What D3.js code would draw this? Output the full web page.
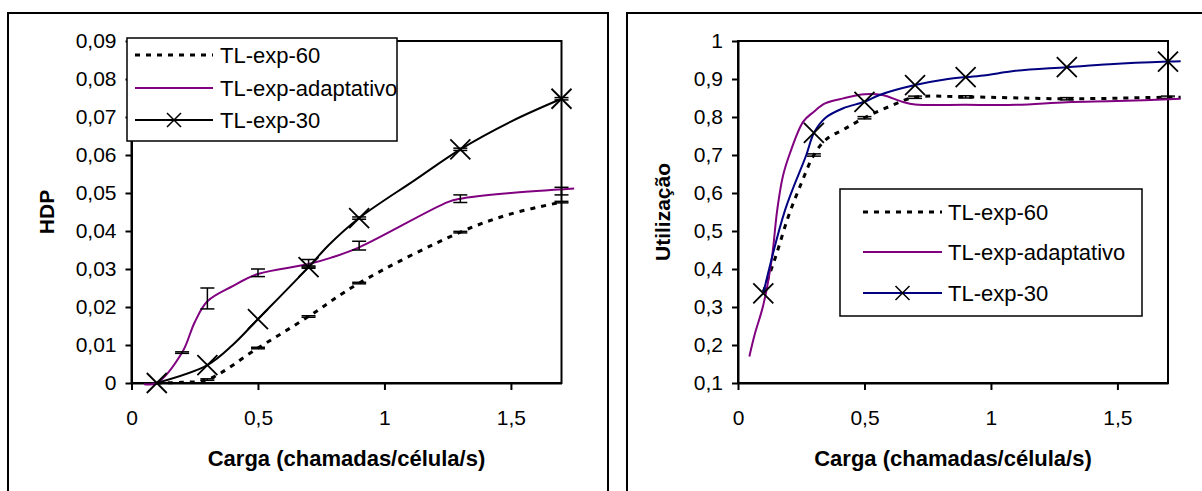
<!DOCTYPE html>
<html>
<head>
<meta charset="utf-8">
<script src="https://cdn.jsdelivr.net/npm/d3@7"></script>
<style>
  body { margin: 0; background: #fff; }
  svg { display: block; font-family: "Liberation Sans", Arial, sans-serif; }
</style>
</head>
<body>
<div id="vis"></div>
<script>
// axis ticks and labels
const xTicks = [0, 0.5, 1, 1.5];
const xTickLabels = ["0", "0,5", "1", "1,5"];
const hdpTicks = [0, 0.01, 0.02, 0.03, 0.04, 0.05, 0.06, 0.07, 0.08, 0.09];
const hdpTickLabels = ["0", "0,01", "0,02", "0,03", "0,04", "0,05", "0,06", "0,07", "0,08", "0,09"];
const utilTicks = [0.1, 0.2, 0.3, 0.4, 0.5, 0.6, 0.7, 0.8, 0.9, 1];
const utilTickLabels = ["0,1", "0,2", "0,3", "0,4", "0,5", "0,6", "0,7", "0,8", "0,9", "1"];
const seriesNames = ["TL-exp-60", "TL-exp-adaptativo", "TL-exp-30"];
const xTitle = "Carga (chamadas/célula/s)";

// HDP (left chart): [carga, valor]
const hdpExp60 = [[0.1, 0], [0.2, 0.0002], [0.3, 0.0009], [0.5, 0.0092], [0.7, 0.0175],
  [0.9, 0.0263], [1.3, 0.0397], [1.5, 0.0445], [1.7, 0.0476]];
const hdpAdapt = [[0.05, -0.0003], [0.1, 0], [0.2, 0.008], [0.25, 0.016], [0.3, 0.0215],
  [0.4, 0.0255], [0.5, 0.0287], [0.7, 0.0313], [0.79, 0.033], [0.9, 0.0357], [1.25, 0.0476],
  [1.3, 0.0485], [1.5, 0.05], [1.75, 0.0512]];
const hdpExp30 = [[0.1, 0], [0.3, 0.0047], [0.4, 0.01], [0.5, 0.0168], [0.7, 0.0305],
  [0.78, 0.0363], [0.9, 0.0434], [1.12, 0.0534], [1.3, 0.0615], [1.5, 0.0688], [1.7, 0.0748]];
const hdpExp30Marks = [0.1, 0.3, 0.5, 0.7, 0.9, 1.3, 1.7];
// error bars: [carga, baixo, alto]
const hdpExp60Err = [[0.3, 0.0007, 0.0011], [0.5, 0.009, 0.0094], [0.7, 0.0173, 0.0177],
  [0.9, 0.0261, 0.0265], [1.3, 0.0395, 0.0399], [1.7, 0.0474, 0.0478]];
const hdpAdaptErr = [[0.2, 0.0078, 0.0082], [0.3, 0.0195, 0.025], [0.5, 0.028, 0.030],
  [0.7, 0.0305, 0.0325], [0.9, 0.035, 0.0373], [1.3, 0.0475, 0.0495], [1.7, 0.0495, 0.0515]];
const hdpExp30Err = [[0.7, 0.0302, 0.0308], [0.9, 0.0431, 0.0437], [1.3, 0.0612, 0.0618],
  [1.7, 0.0745, 0.0751]];

// Utilização (right chart)
const utilExp60 = [[0.1, 0.34], [0.15, 0.435], [0.2, 0.54], [0.25, 0.625], [0.3, 0.70],
  [0.35, 0.742], [0.42, 0.768], [0.5, 0.798], [0.6, 0.828], [0.7, 0.852], [0.9, 0.853],
  [1.3, 0.848], [1.7, 0.852], [1.75, 0.852]];
const utilAdapt = [[0.045, 0.17], [0.067, 0.23], [0.1, 0.305], [0.133, 0.424], [0.155, 0.555],
  [0.177, 0.643], [0.205, 0.704], [0.258, 0.788], [0.3, 0.814], [0.344, 0.836], [0.416, 0.849],
  [0.5, 0.86], [0.57, 0.858], [0.65, 0.84], [0.7, 0.833], [0.9, 0.832], [1.1, 0.832],
  [1.3, 0.839], [1.5, 0.842], [1.75, 0.848]];
const utilExp30 = [[0.1, 0.336], [0.186, 0.555], [0.27, 0.70], [0.3, 0.758], [0.344, 0.797],
  [0.416, 0.823], [0.5, 0.84], [0.56, 0.858], [0.7, 0.884], [0.83, 0.90], [0.9, 0.905],
  [0.98, 0.91], [1.09, 0.921], [1.3, 0.931], [1.47, 0.939], [1.7, 0.946], [1.75, 0.947]];
const utilExp30Marks = [0.1, 0.3, 0.5, 0.7, 0.9, 1.3, 1.7];
const utilExp60Err = [[0.3, 0.697, 0.703], [0.5, 0.795, 0.801], [0.7, 0.849, 0.855],
  [0.9, 0.85, 0.856], [1.3, 0.845, 0.851], [1.7, 0.849, 0.855]];

const svg = d3.select("#vis").append("svg")
  .attr("width", 1202)
  .attr("height", 491);

// outer frames
svg.append("rect").attr("x", 8).attr("y", 13).attr("width", 600).attr("height", 520)
  .attr("fill", "none").attr("stroke", "#000").attr("stroke-width", 2);
svg.append("rect").attr("x", 627).attr("y", 13).attr("width", 600).attr("height", 520)
  .attr("fill", "none").attr("stroke", "#000").attr("stroke-width", 2);

const styles = {
  exp60: { stroke: "#000", width: 3, dash: "5,6" },
  adapt: { stroke: "#800080", width: 2, dash: null },
  exp30left: { stroke: "#000", width: 2, dash: null },
  exp30right: { stroke: "#000080", width: 2, dash: null }
};

function drawChart(cfg) {
  const g = svg.append("g");
  const x = d3.scaleLinear().domain([0, 1.7]).range([cfg.left, cfg.left + 430]);
  const y = d3.scaleLinear().domain(cfg.yDomain).range([383, 41]);

  // plot area border
  g.append("rect")
    .attr("x", x(0)).attr("y", y(cfg.yDomain[1]))
    .attr("width", x(1.7) - x(0)).attr("height", y(cfg.yDomain[0]) - y(cfg.yDomain[1]))
    .attr("fill", "none").attr("stroke", "#000").attr("stroke-width", 2);

  const xAxis = g.append("g")
    .attr("transform", `translate(0,${y(cfg.yDomain[0])})`)
    .call(d3.axisBottom(x).tickValues(xTicks).tickFormat((d, i) => xTickLabels[i])
      .tickSizeInner(7).tickSizeOuter(0).tickPadding(20));
  const yAxis = g.append("g")
    .attr("transform", `translate(${x(0)},0)`)
    .call(d3.axisLeft(y).tickValues(cfg.yTicks).tickFormat((d, i) => cfg.yLabels[i])
      .tickSizeInner(6).tickSizeOuter(0).tickPadding(9));
  [xAxis, yAxis].forEach(a => {
    a.attr("font-family", null).attr("font-size", 21);
    a.selectAll("path, line").attr("stroke", "#000").attr("stroke-width", 2);
    a.selectAll("text").attr("fill", "#000");
  });

  // axis titles
  g.append("text")
    .attr("x", (x(0) + x(1.7)) / 2).attr("y", 466)
    .attr("text-anchor", "middle")
    .attr("font-size", 22).attr("font-weight", "bold")
    .text(xTitle);
  g.append("text")
    .attr("transform", `translate(${cfg.yTitleX},212) rotate(-90)`)
    .attr("text-anchor", "middle").attr("dy", "0.36em")
    .attr("font-size", 21).attr("font-weight", "bold")
    .text(cfg.yTitle);

  const line = d3.line().x(d => x(d[0])).y(d => y(d[1])).curve(d3.curveCatmullRom);

  cfg.series.forEach(s => {
    g.append("path")
      .datum(s.data)
      .attr("d", line)
      .attr("fill", "none")
      .attr("stroke", s.style.stroke)
      .attr("stroke-width", s.style.width)
      .attr("stroke-dasharray", s.style.dash);

    if (s.err) {
      const eb = g.append("g").attr("stroke", "#000").attr("stroke-width", 1.5);
      s.err.forEach(e => {
        eb.append("line").attr("x1", x(e[0])).attr("x2", x(e[0]))
          .attr("y1", y(e[1])).attr("y2", y(e[2]));
        [e[1], e[2]].forEach(v => {
          eb.append("line").attr("x1", x(e[0]) - 7).attr("x2", x(e[0]) + 7)
            .attr("y1", y(v)).attr("y2", y(v));
        });
      });
    }

    if (s.marks) {
      const pts = s.data.filter(d => s.marks.includes(d[0]));
      g.append("g").selectAll("path")
        .data(pts)
        .join("path")
        .attr("d", d => {
          const cx = x(d[0]), cy = y(d[1]), r = 10;
          return `M${cx - r},${cy - r}L${cx + r},${cy + r}M${cx - r},${cy + r}L${cx + r},${cy - r}`;
        })
        .attr("stroke", "#000").attr("stroke-width", 1.8).attr("fill", "none");
    }
  });

  // legend
  const L = cfg.legend;
  const clipId = "clip-" + cfg.id;
  g.append("clipPath").attr("id", clipId)
    .append("rect").attr("x", L.x).attr("y", L.y).attr("width", L.w).attr("height", L.h);
  const lg = g.append("g");
  lg.append("rect").attr("x", L.x).attr("y", L.y).attr("width", L.w).attr("height", L.h)
    .attr("fill", "#fff");
  const items = lg.append("g").attr("clip-path", `url(#${clipId})`);
  cfg.series.forEach((s, i) => {
    const ry = L.rows[i];
    items.append("line")
      .attr("x1", L.lx0).attr("x2", L.lx1).attr("y1", ry).attr("y2", ry)
      .attr("stroke", s.style.stroke).attr("stroke-width", s.style.width)
      .attr("stroke-dasharray", s.style.dash);
    if (s.marks) {
      const cx = (L.lx0 + L.lx1) / 2, r = 7;
      items.append("path")
        .attr("d", `M${cx - r},${ry - r}L${cx + r},${ry + r}M${cx - r},${ry + r}L${cx + r},${ry - r}`)
        .attr("stroke", "#000").attr("stroke-width", 1.5);
    }
    items.append("text")
      .attr("x", L.tx).attr("y", ry).attr("dy", "0.36em")
      .attr("font-size", 22).attr("fill", "#000")
      .text(seriesNames[i]);
  });
  lg.append("rect").attr("x", L.x).attr("y", L.y).attr("width", L.w).attr("height", L.h)
    .attr("fill", "none").attr("stroke", "#000").attr("stroke-width", 1.5);
}

drawChart({
  id: "hdp",
  left: 131.5,
  yDomain: [0, 0.09],
  yTicks: hdpTicks,
  yLabels: hdpTickLabels,
  yTitle: "HDP",
  yTitleX: 46,
  series: [
    { data: hdpExp60, style: styles.exp60, err: hdpExp60Err },
    { data: hdpAdapt, style: styles.adapt, err: hdpAdaptErr },
    { data: hdpExp30, style: styles.exp30left, err: hdpExp30Err, marks: hdpExp30Marks }
  ],
  legend: { x: 127, y: 38, w: 270, h: 103, rows: [55, 88, 120], lx0: 135, lx1: 213, tx: 220 }
});

drawChart({
  id: "util",
  left: 738,
  yDomain: [0.1, 1],
  yTicks: utilTicks,
  yLabels: utilTickLabels,
  yTitle: "Utilização",
  yTitleX: 662,
  series: [
    { data: utilExp60, style: styles.exp60, err: utilExp60Err },
    { data: utilAdapt, style: styles.adapt },
    { data: utilExp30, style: styles.exp30right, marks: utilExp30Marks }
  ],
  legend: { x: 840, y: 189, w: 302, h: 127, rows: [212, 252, 293], lx0: 863, lx1: 942, tx: 948 }
});
</script>
</body>
</html>
